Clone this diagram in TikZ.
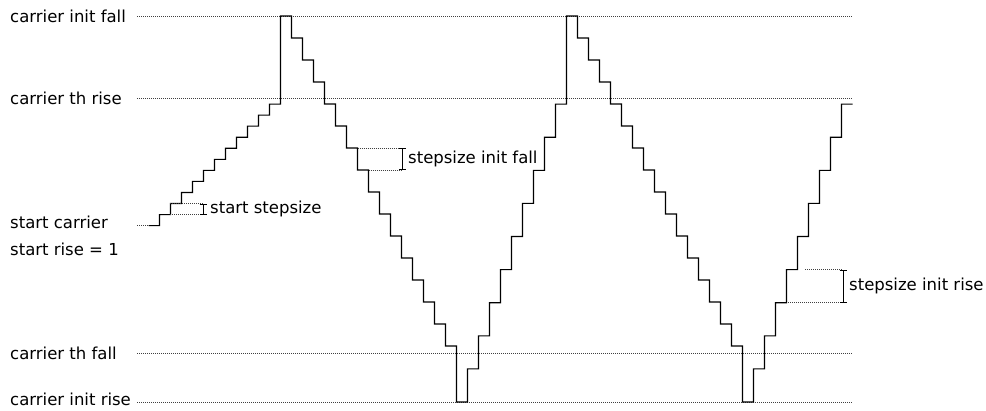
\documentclass[tikz,border=0pt]{standalone}
\usepackage{fontspec}
\setmainfont{DejaVu Sans}
\usetikzlibrary{arrows.meta}

\begin{document}
\begin{tikzpicture}[x=1pt,y=-1pt,
	label/.style={anchor=west,inner sep=0pt,font=\fontsize{16.5}{19}\selectfont},
	level/.style={draw=black!75,line width=0.7pt,dash pattern=on 1pt off 1pt},
	wave/.style={draw=black,line width=1.1pt,line join=miter},
	sizebar/.style={draw=black,line width=0.9pt,{Bar[width=7pt]}-{Bar[width=7pt]}}]
	\useasboundingbox (0,0) rectangle (986,410);
	% level names
	\node[label] (initfall) at (10,16) {carrier init fall};
	\node[label] (thrise) at (10,98) {carrier th rise};
	\node[label] (startc) at (10,222) {start carrier};
	\node[label] (startr) at (10,249) {start rise = 1};
	\node[label] (thfall) at (10,353) {carrier th fall};
	\node[label] (initrise) at (10,399) {carrier init rise};
	% level lines
	\coordinate (initfallA) at (137,16);   \coordinate (initfallB) at (853,16);
	\coordinate (thriseA) at (137,98);     \coordinate (thriseB) at (853,98);
	\coordinate (thfallA) at (137,353);    \coordinate (thfallB) at (853,353);
	\coordinate (initriseA) at (137,402);  \coordinate (initriseB) at (853,402);
	\coordinate (startA) at (137,225.6);   \coordinate (startB) at (148.5,225.6);
	\draw[level] (initfallA) -- (initfallB);
	\draw[level] (thriseA) -- (thriseB);
	\draw[level] (thfallA) -- (thfallB);
	\draw[level] (initriseA) -- (initriseB);
	\draw[level] (startA) -- (startB);
	% carrier
	\draw[wave] (startB)
		\foreach \k in {1,...,11} {
			-- ({148.5+11*\k},{225.6-11.05*(\k-1)}) -- ({148.5+11*\k},{225.6-11.05*\k})}
		-- (280.5,104.05) -- (280.5,16)
		\foreach \k in {1,...,15} {
			-- ({280.5+11*\k},{16+22*(\k-1)}) -- ({280.5+11*\k},{16+22*\k})}
		-- (456.5,346) -- (456.5,402)
		\foreach \k in {1,...,9} {
			-- ({456.5+11*\k},{402-33.1*(\k-1)}) -- ({456.5+11*\k},{402-33.1*\k})}
		-- (566.5,104.1) -- (566.5,16)
		\foreach \k in {1,...,15} {
			-- ({566.5+11*\k},{16+22*(\k-1)}) -- ({566.5+11*\k},{16+22*\k})}
		-- (742.5,346) -- (742.5,402)
		\foreach \k in {1,...,9} {
			-- ({742.5+11*\k},{402-33.1*(\k-1)}) -- ({742.5+11*\k},{402-33.1*\k})}
		-- (852.5,104.1);
	% start stepsize
	\coordinate (ssA) at (170,203.5);  \coordinate (ssB) at (203,203.5);
	\coordinate (ssC) at (170,214.5);  \coordinate (ssD) at (203,214.5);
	\draw[level] (ssA) -- (ssB);
	\draw[level] (ssC) -- (ssD);
	\draw[sizebar] (ssB) -- (ssD);
	\node[label] (startstep) at (210,209) {start stepsize};
	% stepsize init fall
	\coordinate (sfA) at (357.5,148);  \coordinate (sfB) at (402,148);
	\coordinate (sfC) at (368.5,170);  \coordinate (sfD) at (402,170);
	\draw[level] (sfA) -- (sfB);
	\draw[level] (sfC) -- (sfD);
	\draw[sizebar] (sfB) -- (sfD);
	\node[label] (fallstep) at (408,159) {stepsize init fall};
	% stepsize init rise
	\coordinate (srA) at (805,269.5);  \coordinate (srB) at (843,269.5);
	\coordinate (srC) at (788,302.5);  \coordinate (srD) at (843,302.5);
	\draw[level] (srA) -- (srB);
	\draw[level] (srC) -- (srD);
	\draw[sizebar] (srB) -- (srD);
	\node[label] (risestep) at (849,286) {stepsize init rise};
\end{tikzpicture}
\end{document}
